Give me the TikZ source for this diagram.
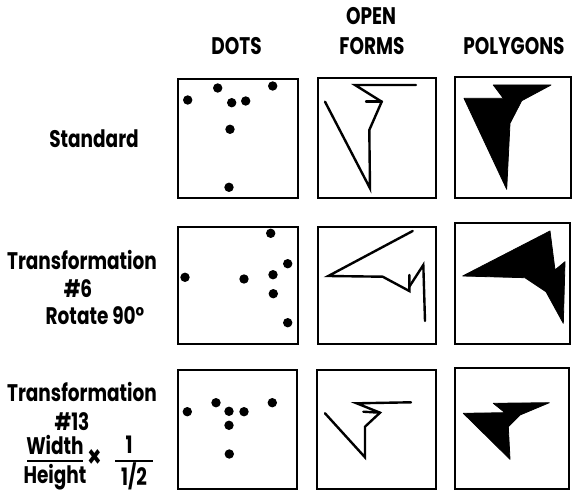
\documentclass[tikz,border=0pt]{standalone}
\usepackage{fontspec}
\setmainfont{Poppins}[FakeStretch=0.77]
\begin{document}
\begin{tikzpicture}[x=1pt,y=-1pt,
  frame/.style={line width=2.4pt},
  stroke/.style={line width=2.4pt,line join=miter,line cap=round},
  blob/.style={fill=black,draw=black,line width=0.8pt,line join=round},
  lbl/.style={font=\fontsize{24}{28}\selectfont\bfseries,inner sep=0pt,anchor=center},
  dot/.style={fill=black}]
\useasboundingbox (0,0) rectangle (575,494);
% headers
\node[lbl] (hdots) at (236.5,46) {DOTS};
\node[lbl] (hopen) at (371,16) {OPEN};
\node[lbl] (hforms) at (372,46) {FORMS};
\node[lbl] (hpoly) at (514,46) {POLYGONS};
% row labels
\node[lbl] (std) at (94,139) {Standard};
\node[lbl] (tr6) at (82,260) {Transformation};
\node[lbl] (n6) at (78,289) {\#6};
\node[lbl] (rot) at (95,316) {Rotate 90°};
\node[lbl] (tr13) at (82,392) {Transformation};
\node[lbl] (n13) at (72,422) {\#13};
\node[lbl] (wid) at (55,445) {Width};
\node[lbl,font=\fontsize{30}{30}\selectfont\bfseries] (times) at (95,458) {×};
\node[lbl] (one) at (129,445) {1};
\node[lbl] (hei) at (55,477) {Height};
\node[lbl] (half) at (134,476) {1/2};
\draw[line width=2.2pt] (27,461) -- (83,461);
\draw[line width=2.2pt] (115,461) -- (153,461);
% frames
\draw[frame] (178,79) rectangle (298,198);
\draw[frame] (318,78) rectangle (436,198);
\draw[frame] (455,77) rectangle (571,198);
\draw[frame] (178,227) rectangle (298,344);
\draw[frame] (318,227) rectangle (436,344);
\draw[frame] (455,223) rectangle (570,344);
\draw[frame] (178,370) rectangle (297,489);
\draw[frame] (317,370) rectangle (436,489);
\draw[frame] (455,368) rectangle (569,489);
% row 1 dots
\foreach \p in {(187.7,100),(217.7,88),(231.7,102.7),(245.7,101),(272.7,86),(230,129.3),(229,187.3)}
  \fill[dot] \p circle (4.7);
% row 2 dots
\foreach \p in {(185,277.3),(244,279),(270.7,233.3),(287.7,263.7),(273,274.7),(273.3,293.7),(287.7,322.7)}
  \fill[dot] \p circle (4.7);
% row 3 dots
\foreach \p in {(187.3,411.7),(216,402.7),(229,411.3),(244,411.7),(272.3,402.7),(229,425.3),(229.3,454)}
  \fill[dot] \p circle (4.7);
% open forms
\draw[stroke] (325,101.7) -- (370,188.3) -- (369.3,130) -- (381.7,101.7) -- (355,85) -- (416,85);
\draw[stroke] (366,101.7) -- (381.7,101.7);
\draw[stroke] (412.7,231) -- (328.3,276) -- (382.7,276.7) -- (409.3,291) -- (409.3,275);
\draw[stroke] (409.3,286.7) -- (423.3,265) -- (425,321);
\draw[stroke] (325,413.3) -- (365,457.3) -- (365,426.7) -- (380,412.7) -- (356.7,403.3) -- (411,402.3);
\draw[stroke] (363.3,411.7) -- (380,412.7);
% polygons
\filldraw[blob] (464,98.3) -- (503.3,98.3) -- (493.3,85) -- (551,85) -- (521.7,100.7) -- (510,123.3) -- (506.7,189.3) -- cycle;
\filldraw[blob] (462.7,276) -- (550,231) -- (555,270) -- (565,261.7) -- (563.3,323.3) -- (546,291.7) -- (525,277.7) -- cycle;
\filldraw[blob] (463.3,413.3) -- (505,412.7) -- (493.3,403.3) -- (549.3,402.7) -- (520,415) -- (508.3,426.7) -- (510,459.3) -- cycle;
\end{tikzpicture}
\end{document}
